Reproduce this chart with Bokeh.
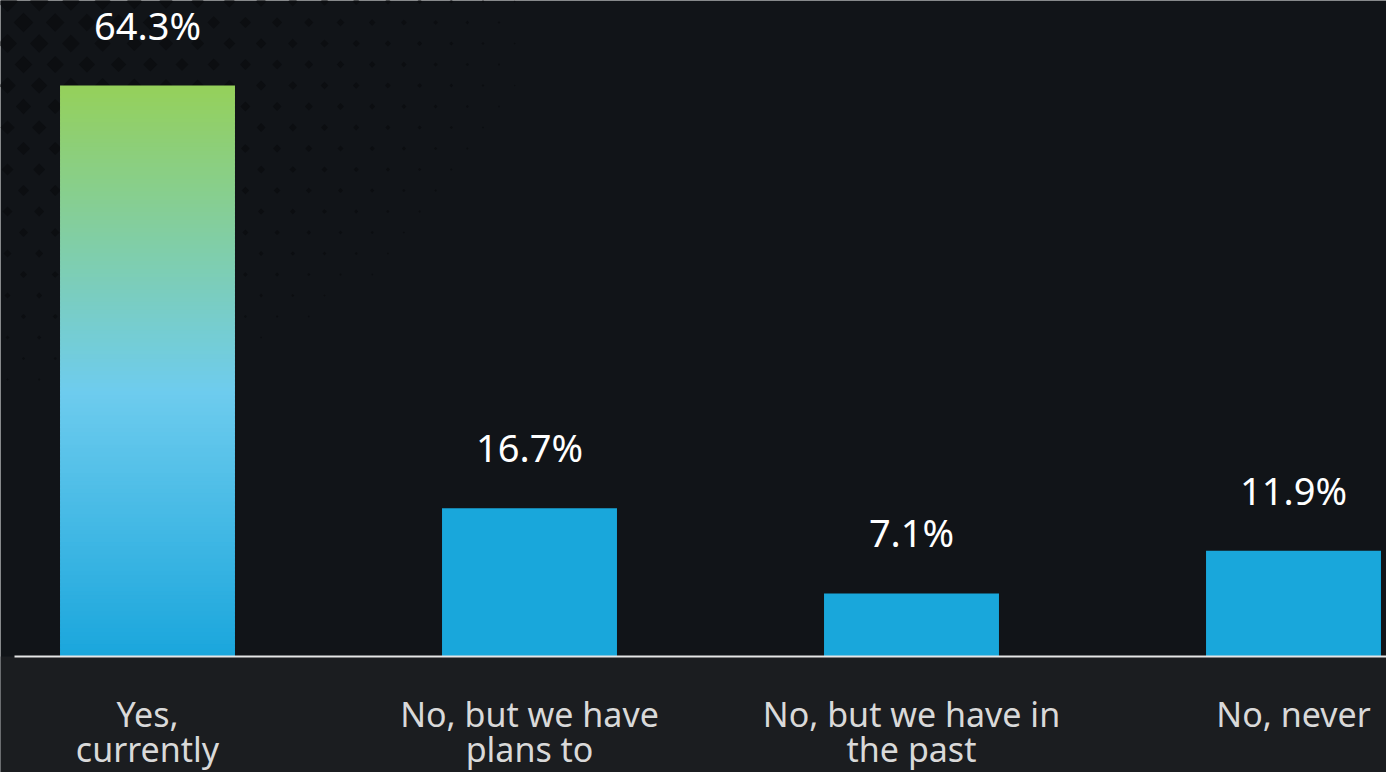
import numpy as np
from bokeh.plotting import figure
from bokeh.models import Range1d
from bokeh.embed import file_html
from bokeh.resources import INLINE
from bokeh.core.properties import value

# ---- data ----
categories = ["Yes,\ncurrently", "No, but we have\nplans to", "No, but we have in\nthe past", "No, never"]
values = [64.3, 16.7, 7.1, 11.9]
value_labels = ["64.3%", "16.7%", "7.1%", "11.9%"]

# ---- layout ----
W, H = 1386, 772
PX_X = 382.0      # pixels per category step
PX_Y = 8.88       # pixels per percentage point
X0_PX = 147.0     # pixel centre of first bar
BASE_PX = 656.0   # pixel row of the baseline
x_start = -X0_PX / PX_X
x_end = x_start + W / PX_X
y_end = BASE_PX / PX_Y
y_start = y_end - H / PX_Y

BG_TOP = "#111418"
BG_BOTTOM = "#1b1d20"
BAR = "#19a7db"
FONT = "Noto Sans"

p = figure(width=W, height=H, x_range=Range1d(x_start, x_end), y_range=Range1d(y_start, y_end),
           output_backend="svg", toolbar_location=None, min_border=0,
           x_axis_location=None, y_axis_location=None,
           background_fill_color=BG_TOP, border_fill_color=BG_TOP, outline_line_color=None)
p.grid.visible = False

# decorative diamond pattern (top-left)
dx, dy = [], []
sizes = []
for r in range(0, 30):
    py = 1 + r * 21.0
    off = 7.0 if r % 2 == 0 else 23.0
    for c in range(0, 30):
        px = off + c * 31.7
        rr = np.sqrt((px / 600.0) ** 2 + (py / 450.0) ** 2)
        f = 1 - rr
        if f <= 0.03:
            continue
        s = 15.0 * f ** 1.2
        if s < 1.2:
            continue
        dx.append(x_start + px / PX_X)
        dy.append(y_end - py / PX_Y)
        sizes.append(s)
p.scatter(x=dx, y=dy, size=sizes, marker="square", angle=np.pi / 4,
          fill_color="#0c0e11", line_color=None)

# lower band background
p.quad(left=[x_start], right=[x_end], bottom=[y_start], top=[0], fill_color=BG_BOTTOM, line_color=None)

xs = np.arange(len(values))
hi = int(np.argmax(values))

# plain bars
plain_x = [x for i, x in enumerate(xs) if i != hi]
plain_v = [v for i, v in enumerate(values) if i != hi]
BW = 0.458
p.vbar(x=plain_x, top=plain_v, bottom=0, width=BW, fill_color=BAR, line_color=None)

# gradient bar for the highest value
stops = [(0.0, (26, 166, 220)), (0.465, (110, 204, 238)), (1.0, (149, 208, 90))]
def grad(t):
    for (t0, c0), (t1, c1) in zip(stops[:-1], stops[1:]):
        if t <= t1:
            u = (t - t0) / (t1 - t0)
            return "#%02x%02x%02x" % tuple(int(round(a + (b - a) * u)) for a, b in zip(c0, c1))
    return "#%02x%02x%02x" % stops[-1][1]

N = 140
edges = np.linspace(0, values[hi], N + 1)
cols = [grad((edges[k] + edges[k + 1]) / 2 / values[hi]) for k in range(N)]
overlap = 1.5 / PX_Y
tops = np.minimum(edges[1:] + overlap, values[hi])
p.quad(left=[xs[hi] - BW / 2] * N, right=[xs[hi] + BW / 2] * N,
       bottom=edges[:-1], top=tops, fill_color=cols, line_color=None)

# baseline
p.segment(x0=[x_start + 14 / PX_X], y0=[0], x1=[x_end], y1=[0], line_color="#e6e6e6", line_width=2)

# value labels
p.text(x=xs, y=values, text=value_labels, text_align="center", text_baseline="alphabetic",
       y_offset=-61, text_color="#ffffff", text_font=value(FONT), text_font_size="38px")

# category labels (two lines)
line1 = [c.split("\n")[0] for c in categories]
line2 = [c.split("\n")[1] if "\n" in c else "" for c in categories]
p.text(x=xs, y=[0] * len(xs), text=line1, text_align="center", text_baseline="alphabetic",
       y_offset=57, text_color="#d9d9d9", text_font=value(FONT), text_font_size="34px")
p.text(x=xs, y=[0] * len(xs), text=line2, text_align="center", text_baseline="alphabetic",
       y_offset=92, text_color="#d9d9d9", text_font=value(FONT), text_font_size="34px")

open("out.html", "w").write(file_html(p, INLINE))
